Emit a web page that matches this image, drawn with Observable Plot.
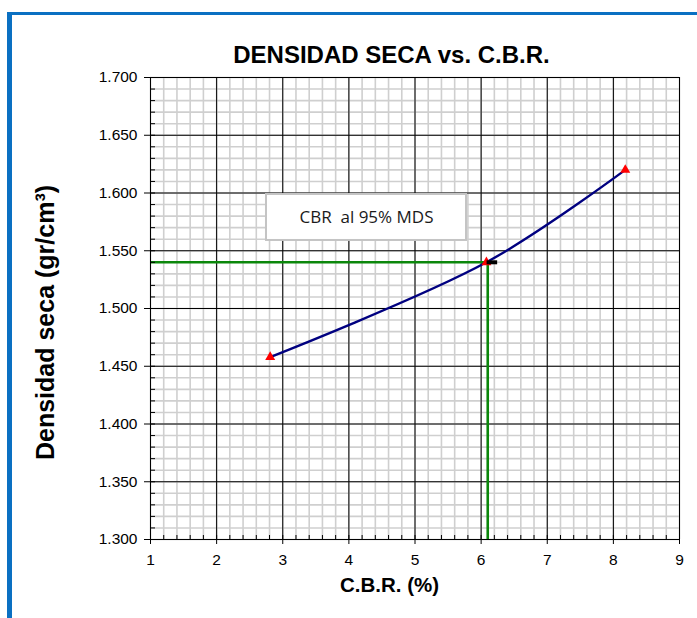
<!DOCTYPE html>
<html>
<head>
<meta charset="utf-8">
<script src="https://cdn.jsdelivr.net/npm/d3@7"></script>
<script src="https://cdn.jsdelivr.net/npm/@observablehq/plot@0.6"></script>
<style>
  html, body { margin: 0; padding: 0; background: #fff; }
  #wrap { position: relative; width: 697px; height: 618px; overflow: hidden; }
  #frameLeft { position: absolute; left: 7px; top: 12px; width: 5px; height: 620px; background: #0a70c2; }
  #frameTop { position: absolute; left: 7px; top: 12px; width: 700px; height: 3px; background: #0a70c2; }
  #chart { position: absolute; left: 0; top: 0; }
</style>
</head>
<body>
<div id="wrap">
  <div id="chart"></div>
  <div id="frameLeft"></div>
  <div id="frameTop"></div>
</div>
<script>
// ---- data ----
const cbr = [2.81, 6.08, 8.18];
const density = [1.458, 1.540, 1.620];
const targetCBR = [6.10];
const targetDensity = [1.540];
const xTicks = [1, 2, 3, 4, 5, 6, 7, 8, 9];
const yTicks = [1.30, 1.35, 1.40, 1.45, 1.50, 1.55, 1.60, 1.65, 1.70];
const xMinor = d3.range(1, 9.0001, 0.2).map(v => +v.toFixed(2));
const yMinor = d3.range(1.30, 1.70001, 0.01).map(v => +v.toFixed(3));
const titleText = ["DENSIDAD SECA vs. C.B.R."];
const xLabel = ["C.B.R. (%)"];
const yLabel = ["Densidad seca (gr/cm³)"];
const noteText = ["CBR  al 95% MDS"];
const noteBox = [{x1: 2.754, x2: 5.779, y1: 1.5589, y2: 1.5987}];
const markerDash = [{x1: 6.09, x2: 6.25, y: 1.540}];

const points = cbr.map((x, i) => ({x, y: density[i]}));
const target = targetCBR.map((x, i) => ({x, y: targetDensity[i]}));

const font = "'Liberation Sans', Arial, sans-serif";

const chart = Plot.plot({
  width: 697,
  height: 618,
  marginLeft: 150,
  marginRight: 18,
  marginTop: 77,
  marginBottom: 79,
  style: {fontFamily: font, background: "transparent", overflow: "visible"},
  x: {domain: [1, 9]},
  y: {domain: [1.3, 1.7]},
  marks: [
    // minor grid
    Plot.ruleX(xMinor, {stroke: "#cfcfcf", strokeWidth: 1.6}),
    Plot.ruleY(yMinor, {stroke: "#cfcfcf", strokeWidth: 1.6}),
    // major grid
    Plot.ruleX(xTicks, {stroke: "#000", strokeWidth: 1}),
    Plot.ruleY(yTicks, {stroke: "#000", strokeWidth: 1}),
    // annotation box
    Plot.rect(noteBox, {x1: "x1", x2: "x2", y1: "y1", y2: "y2", fill: "#fff", stroke: "#c4c4c4", strokeWidth: 2}),
    Plot.text(noteText, {x: d => (noteBox[0].x1 + noteBox[0].x2) / 2, y: d => (noteBox[0].y1 + noteBox[0].y2) / 2,
      text: d => d, fontSize: 17, fill: "#1a1a1a", fontFamily: "'Open Sans', 'Noto Sans', sans-serif"}),
    // target guide lines
    Plot.ruleY(target, {y: "y", x1: 1, x2: "x", stroke: "#0b870b", strokeWidth: 2.6}),
    Plot.ruleX(target, {x: "x", y1: 1.3, y2: "y", stroke: "#0b870b", strokeWidth: 2.6}),
    // curve
    Plot.line(points, {x: "x", y: "y", stroke: "#000080", strokeWidth: 2.4, curve: "catmull-rom"}),
    Plot.dot(points, {x: "x", y: "y", symbol: "triangle", r: 3.7, fill: "#ff0000", stroke: "none"}),
    Plot.ruleY(markerDash, {y: "y", x1: "x1", x2: "x2", stroke: "#000", strokeWidth: 4}),
    // frame
    Plot.frame({stroke: "#000", strokeWidth: 1}),
    // axes
    Plot.axisY({ticks: yTicks, tickFormat: d3.format(".3f"), tickSize: 6, tickPadding: 7, fontSize: 15.5, label: null, color: "#000"}),
    Plot.axisY({ticks: yMinor, tickSize: 5, dx: 5, text: null, label: null}),
    Plot.axisX({ticks: xTicks, tickFormat: d3.format("d"), tickSize: 5, tickPadding: 9, fontSize: 15.5, label: null, color: "#000"}),
    Plot.axisX({ticks: xMinor, tickSize: 4, dy: -4, text: null, label: null}),
    // titles
    Plot.text(titleText, {frameAnchor: "top", textAnchor: "middle", text: d => d, dx: -23.5, dy: -32, fontSize: 24, fontWeight: "bold", fill: "#000"}),
    Plot.text(xLabel, {frameAnchor: "bottom", textAnchor: "middle", text: d => d, dx: -25.5, dy: 52, fontSize: 20.5, fontWeight: "bold", fill: "#000"}),
    Plot.text(yLabel, {frameAnchor: "left", textAnchor: "middle", text: d => d, rotate: -90, dx: -105, dy: 14, fontSize: 25, fontWeight: "bold", fill: "#000"})
  ]
});
document.getElementById("chart").appendChild(chart);
</script>
</body>
</html>
